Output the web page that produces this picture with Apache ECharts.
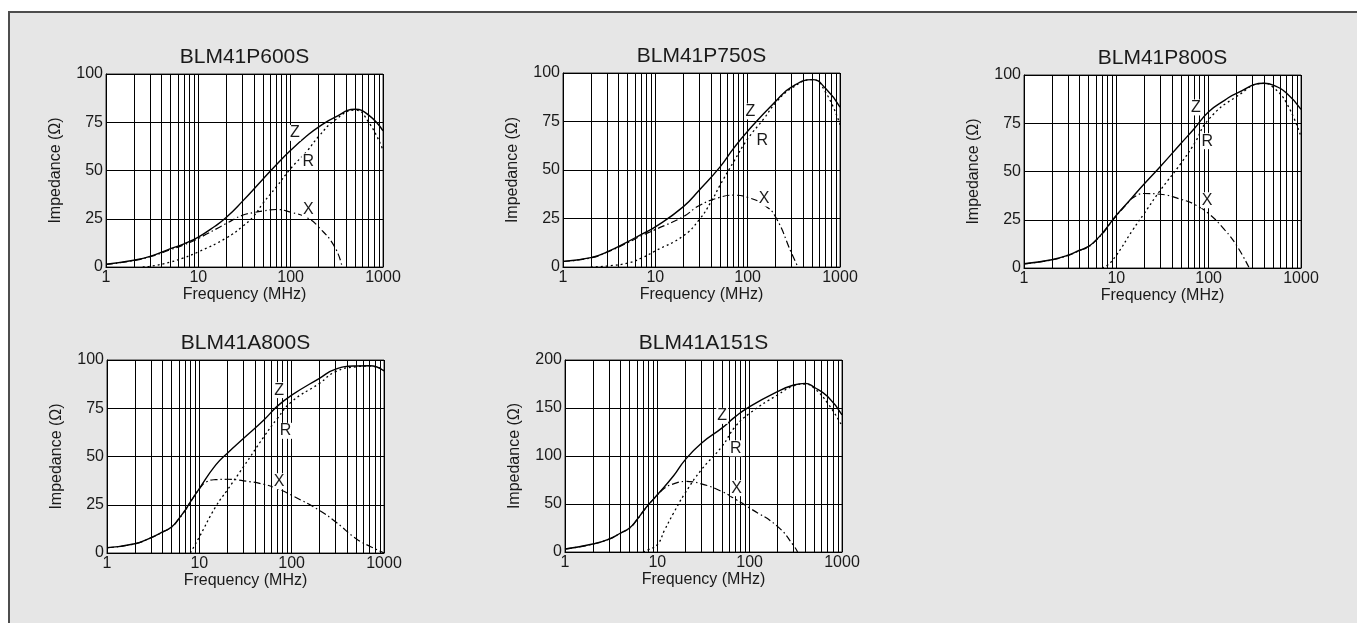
<!DOCTYPE html>
<html><head><meta charset="utf-8">
<script src="https://cdn.jsdelivr.net/npm/echarts@6/dist/echarts.min.js"></script>
<style>html,body{margin:0;padding:0;background:#fff;overflow:hidden}#c{width:1357px;height:623px}</style>
</head><body><div id="c"></div>
<script>
// ---------------- DATA ----------------
const titles = ['BLM41P600S', 'BLM41P750S', 'BLM41P800S', 'BLM41A800S', 'BLM41A151S'];
const xName = 'Frequency (MHz)';
const yName = 'Impedance (Ω)';
const xTicks = [1, 10, 100, 1000];
const yMax = [100, 100, 100, 100, 200];
const yStep = [25, 25, 25, 25, 50];
const minorFreqs = [2, 3, 4, 5, 6, 7, 8, 9, 20, 30, 40, 50, 60, 70, 80, 90, 200, 300, 400, 500, 600, 700, 800, 900];

// BLM41P600S
const fZ600 = [1, 2, 3, 5, 7, 10, 15, 20, 30, 50, 70, 100, 150, 200, 300, 500, 700, 1000];
const Z600  = [1.4, 3.5, 5.5, 9.5, 12, 15.5, 21, 25.6, 34, 45.5, 53, 60.5, 68, 72.5, 77.5, 81.7, 78.7, 70.6];
const fR600 = [2.5, 3, 5, 7, 10, 20, 30, 40, 50, 70, 100, 150, 200, 300, 500, 700, 1000];
const R600  = [0, 0.3, 2.6, 4.8, 7.8, 15, 21, 26.5, 33, 41.5, 51, 60, 67.5, 76, 81.3, 75, 60.5];
const fX600 = [1, 2, 3, 5, 7, 10, 20, 30, 40, 50, 70, 100, 150, 200, 300, 361];
const X600  = [1.3, 3.3, 5.3, 9, 11.5, 14.8, 22.5, 26.8, 28.2, 29, 29.8, 28.4, 25.6, 20.8, 10.4, 0];

// BLM41P750S
const fZ750 = [1, 2, 3, 5, 7, 10, 20, 30, 50, 70, 100, 200, 300, 500, 700, 1000];
const Z750  = [2.9, 4.8, 7.8, 13, 16.7, 20.7, 31, 39.7, 51.5, 61, 70, 85.3, 92.8, 96.6, 92, 82.4];
const fR750 = [2, 3, 5, 7, 10, 20, 30, 40, 50, 70, 100, 150, 200, 300, 500, 700, 1000];
const R750  = [0, 0.5, 2, 4.5, 8.3, 16, 24.5, 33.5, 42, 54, 66, 76.5, 84.5, 92.2, 96.6, 90, 73.3];
const fX750 = [1, 2, 3, 5, 7, 10, 20, 30, 50, 70, 100, 150, 200, 300, 350];
const X750  = [2.8, 4.7, 7.6, 12.5, 16, 19.3, 25.9, 31.7, 35.9, 37, 35.9, 32, 25.9, 6.9, 0];

// BLM41P800S
const fZ800 = [1, 2, 3, 4, 5, 6, 7, 8, 10, 13, 15, 20, 30, 50, 70, 100, 150, 200, 400, 500, 700, 1000];
const Z800  = [2.2, 4.3, 6.6, 9.2, 11.2, 14.4, 17.8, 21.3, 27.3, 33.4, 36.8, 43.5, 52.6, 64.5, 72.3, 81, 87, 90.5, 95.7, 94.8, 90.5, 82.2];
const fR800 = [7, 8, 10, 15, 20, 30, 50, 70, 100, 200, 400, 500, 700, 1000];
const R800  = [0, 1.4, 6.6, 19.6, 28.2, 40.3, 54.2, 64.5, 77, 88.8, 95.7, 93.6, 85.3, 68];
const fX800 = [1, 2, 3, 4, 5, 6, 7, 8, 10, 13, 15, 20, 30, 50, 70, 100, 150, 200, 275];
const X800  = [2.1, 4.2, 6.5, 9, 11, 14.2, 17.5, 21, 27, 33.2, 36.3, 38.6, 38.2, 35.6, 33, 28.2, 19.6, 11.8, 0];

// BLM41A800S
const fZA8 = [1, 2, 3, 4, 5, 6, 7, 8, 10, 15, 20, 30, 50, 70, 100, 200, 300, 500, 700, 1000];
const ZA8  = [2.8, 4.8, 8, 10.9, 13.5, 17.8, 22.1, 26.5, 33.4, 45.5, 51.6, 59.3, 68.9, 76.1, 81.8, 90.5, 95.3, 96.9, 97, 94.3];
const fRA8 = [8, 10, 15, 20, 30, 50, 70, 100, 200, 300, 500, 700, 1000];
const RA8  = [0, 8.3, 23.9, 32.5, 44.6, 60.2, 69.7, 78.4, 87.9, 94, 96.5, 96.9, 94.8];
const fXA8 = [1, 2, 3, 4, 5, 6, 7, 8, 10, 12, 15, 20, 30, 50, 70, 100, 200, 300, 500, 700, 1000];
const XA8  = [2.7, 4.7, 7.9, 10.8, 13.4, 17.6, 21.9, 26.3, 33.2, 36.9, 38, 38.2, 37.4, 35.6, 33.4, 29.9, 22.1, 16.1, 7.4, 3.5, 0];

// BLM41A151S
const fZ151 = [1, 2, 3, 4, 5, 6, 7, 8, 10, 15, 20, 30, 50, 70, 100, 200, 300, 400, 500, 700, 1000];
const Z151  = [3.1, 8.3, 13.5, 19.8, 25, 33.6, 42.3, 49.2, 59.6, 79.4, 96, 113.3, 129, 141, 151.5, 167, 174, 175.7, 171.6, 161.9, 142.8];
const fR151 = [7, 8, 10, 12, 15, 20, 30, 50, 70, 100, 200, 300, 400, 500, 700, 1000];
const R151  = [0, 2.4, 7.6, 23, 40.6, 61.4, 85.6, 109.9, 130.7, 144.5, 163.6, 173, 175, 170.5, 155, 131.4];
const fX151 = [1, 2, 3, 4, 5, 6, 7, 8, 10, 12, 15, 20, 30, 50, 70, 100, 200, 300, 330];
const X151  = [3, 8.2, 13.4, 19.6, 24.8, 33.3, 42, 49, 59.2, 66.6, 71, 73.5, 71, 63, 55, 45.8, 26.7, 6.6, 0];

// label anchor points [freq, value] for Z, R, X
const labZ = [[111, 69.5], [107, 80.2], [72.6, 83.2], [73, 84.4], [50.4, 141.8]];
const labR = [[155, 54.8], [144, 65], [96.4, 65.7], [86, 63.3], [70.8, 108]];
const labX = [[155, 29.8], [151, 35.3], [96.4, 35.1], [73, 37.2], [72, 66.5]];

const curves = [
  { fz: fZ600, z: Z600, fr: fR600, r: R600, fx: fX600, x: X600 },
  { fz: fZ750, z: Z750, fr: fR750, r: R750, fx: fX750, x: X750 },
  { fz: fZ800, z: Z800, fr: fR800, r: R800, fx: fX800, x: X800 },
  { fz: fZA8, z: ZA8, fr: fRA8, r: RA8, fx: fXA8, x: XA8 },
  { fz: fZ151, z: Z151, fr: fR151, r: R151, fx: fX151, x: X151 }
];

// ---------------- LAYOUT ----------------
const gridPos = [
  { left: 106, top: 74, width: 277, height: 193 },
  { left: 563, top: 73, width: 277, height: 194 },
  { left: 1024, top: 75, width: 277, height: 193 },
  { left: 107, top: 360, width: 277, height: 193 },
  { left: 565, top: 360, width: 277, height: 192 }
];
const FONT = '"Liberation Sans", Arial, Helvetica, sans-serif';
const TXT = '#1a1a1a';

const pairs = (fs, vs) => fs.map((f, i) => [f, vs[i]]);

const grids = [], xAxes = [], yAxes = [], series = [], graphics = [];

graphics.push({
  type: 'rect', z: -100, silent: true,
  shape: { x: 9, y: 12, width: 1400, height: 700 },
  style: { fill: '#e6e6e6', stroke: '#4d4d4d', lineWidth: 2 }
});

function lab(text, pt) {
  return {
    coord: pt, symbol: 'rect', symbolSize: 0,
    label: {
      show: true, formatter: text, position: 'inside',
      color: TXT, fontSize: 16, fontFamily: FONT,
      backgroundColor: '#fff', padding: [0, 1]
    }
  };
}

gridPos.forEach((g, i) => {
  grids.push(Object.assign({
    show: true, backgroundColor: '#fff', borderColor: '#333', borderWidth: 1, containLabel: false
  }, g));
  graphics.push({
    type: 'text', silent: true,
    x: g.left + g.width / 2, y: g.top - 17,
    style: { text: titles[i], font: '21px ' + FONT, fill: TXT, textAlign: 'center', textVerticalAlign: 'middle' }
  });
  xAxes.push({
    gridIndex: i, type: 'log', logBase: 10, min: xTicks[0], max: xTicks[xTicks.length - 1],
    name: xName, nameLocation: 'middle', nameGap: 19,
    nameTextStyle: { fontSize: 16, color: TXT, fontFamily: FONT },
    axisLine: { show: true, lineStyle: { color: '#000', width: 1 } },
    axisTick: { show: false },
    axisLabel: { fontSize: 16, color: TXT, fontFamily: FONT, margin: 3, showMinLabel: true, showMaxLabel: true,
      formatter: v => String(Math.round(v)) },
    splitLine: { show: true, lineStyle: { color: '#000', width: 1 } }
  });
  yAxes.push({
    gridIndex: i, type: 'value', min: 0, max: yMax[i], interval: yStep[i],
    name: yName, nameLocation: 'middle', nameGap: 42, nameRotate: 90,
    nameTextStyle: { fontSize: 16, color: TXT, fontFamily: FONT },
    axisLine: { show: true, lineStyle: { color: '#000', width: 1 } },
    axisTick: { show: false },
    axisLabel: { fontSize: 16, color: TXT, fontFamily: FONT, margin: 3 },
    splitLine: { show: true, lineStyle: { color: '#000', width: 1 } }
  });
  const c = curves[i];
  // minor log gridlines through the axis scale
  series.push({
    type: 'line', xAxisIndex: i, yAxisIndex: i, data: [], silent: true, z: 1,
    markLine: {
      silent: true, symbol: ['none', 'none'], animation: false,
      label: { show: false },
      lineStyle: { color: '#000', width: 1, type: 'solid' },
      emphasis: { disabled: true },
      data: minorFreqs.map(f => ({ xAxis: f }))
    }
  });
  const common = { type: 'line', xAxisIndex: i, yAxisIndex: i, showSymbol: false, symbol: 'none',
    smooth: 0.5, animation: false, silent: true, z: 3, clip: true };
  series.push(Object.assign({}, common, {
    name: 'Z', data: pairs(c.fz, c.z),
    lineStyle: { color: '#000', width: 1.4, type: 'solid' },
    markPoint: { silent: true, animation: false, data: [lab('Z', labZ[i])] }
  }));
  series.push(Object.assign({}, common, {
    name: 'R', data: pairs(c.fr, c.r),
    lineStyle: { color: '#000', width: 1.3, type: [2, 3] },
    markPoint: { silent: true, animation: false, data: [lab('R', labR[i])] }
  }));
  series.push(Object.assign({}, common, {
    name: 'X', data: pairs(c.fx, c.x),
    lineStyle: { color: '#000', width: 1.2, type: [7, 3, 1.5, 3] },
    markPoint: { silent: true, animation: false, data: [lab('X', labX[i])] }
  }));
});

const chart = echarts.init(document.getElementById('c'), null, { renderer: 'canvas' });
chart.setOption({
  backgroundColor: '#fff',
  animation: false,
  grid: grids, xAxis: xAxes, yAxis: yAxes, series: series,
  graphic: { elements: graphics }
});
</script>
</body></html>
